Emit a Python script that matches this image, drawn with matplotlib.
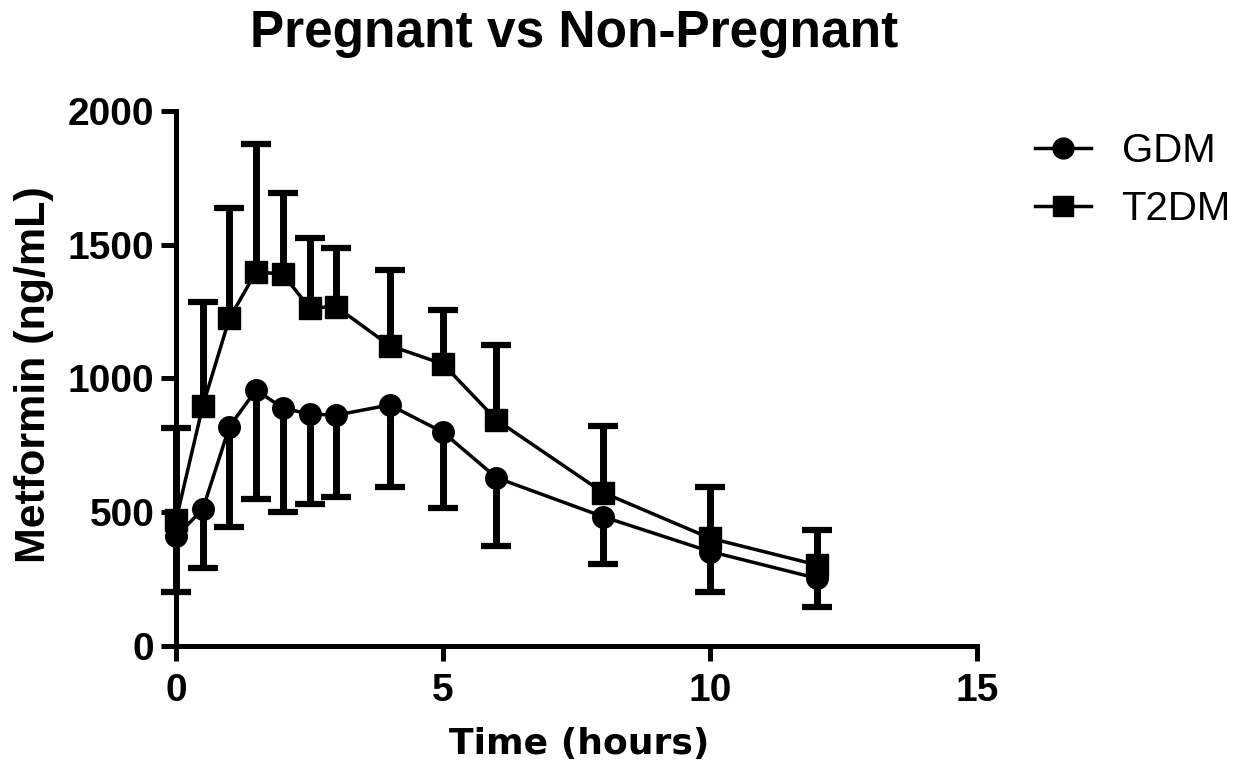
import numpy as np
import matplotlib
matplotlib.use("Agg")
import matplotlib.pyplot as plt
from matplotlib.lines import Line2D

plt.rcParams['font.family'] = ['Liberation Sans', 'DejaVu Sans']

# 시간 (hours)
time_h = [0, 0.5, 1, 1.5, 2, 2.5, 3, 4, 5, 6, 8, 10, 12]

# GDM (원형, 아래쪽 오차막대)
gdm_mean = [410, 511, 820, 957, 889, 867, 863, 901, 799, 629, 483, 353, 253]
gdm_sd = [210, 221, 374, 409, 387, 336, 305, 305, 284, 255, 176, 150, 108]

# T2DM (사각형, 위쪽 오차막대)
t2dm_mean = [471, 897, 1225, 1399, 1390, 1264, 1268, 1123, 1054, 845, 573, 403, 303]
t2dm_sd = [343, 390, 411, 476, 302, 260, 219, 283, 202, 280, 251, 190, 131]

x_ticks = [0, 5, 10, 15]
y_ticks = [0, 500, 1000, 1500, 2000]

fig = plt.figure(figsize=(12.52, 7.75), dpi=100)
ax = fig.add_axes([0.1406, 0.1665, 0.6398, 0.6903])

line_kw = dict(color='black', lw=2.5, markersize=15.5, capsize=10.5,
               elinewidth=5, capthick=4.5)


def draw_series(mean, sd, marker, upward):
    mean = np.array(mean, dtype=float)
    sd = np.array(sd, dtype=float)
    zeros = np.zeros_like(sd)
    yerr = [zeros, sd] if upward else [sd, zeros]
    _, caps, _ = ax.errorbar(time_h, mean, yerr=yerr, marker=marker,
                             ecolor='black', mfc='black', mec='black',
                             clip_on=False, **line_kw)
    # 평균값 위치의 캡은 숨김
    for cap in caps:
        if np.allclose(cap.get_ydata(), mean):
            cap.set_visible(False)
        cap.set_solid_capstyle('round')


draw_series(gdm_mean, gdm_sd, 'o', upward=False)
draw_series(t2dm_mean, t2dm_sd, 's', upward=True)

ax.set_xlim(0, 15)
ax.set_ylim(0, 2000)
ax.set_xticks(x_ticks)
ax.set_yticks(y_ticks)

for side in ['top', 'right']:
    ax.spines[side].set_visible(False)
for side in ['left', 'bottom']:
    ax.spines[side].set_linewidth(3.6)
ax.tick_params(width=3.6, length=11, labelsize=28)
ax.tick_params(axis='x', pad=8.5)
ax.tick_params(axis='y', pad=4.5)
for lab in ax.get_xticklabels() + ax.get_yticklabels():
    lab.set_fontweight('bold')

# 제목 / 축 레이블 (위치는 figure 좌표)
fig.text(0.4589, 1 - 47 / 775, "Pregnant vs Non-Pregnant", fontsize=37,
         fontweight='bold', ha='center', va='baseline')
fig.text(0.4625, 1 - 754 / 775, "Time (hours)", fontsize=26,
         fontweight='bold', ha='center', va='baseline', family='DejaVu Sans')
fig.text(45 / 1252, 1 - 375 / 775, "Metformin (ng/mL)", fontsize=31,
         fontweight='bold', ha='center', va='baseline', rotation=90,
         rotation_mode='anchor')

handles = [
    Line2D([], [], color='black', lw=2.5, marker='o', markersize=15, label='GDM'),
    Line2D([], [], color='black', lw=2.5, marker='s', markersize=15, label='T2DM'),
]
fig.legend(handles=handles, loc='upper left', bbox_to_anchor=(1035 / 1252, 0.830),
           frameon=False, fontsize=29, handlelength=1.4, handletextpad=0.75,
           labelspacing=0.5, borderpad=0, borderaxespad=0)

fig.savefig("out.png", dpi=100)
